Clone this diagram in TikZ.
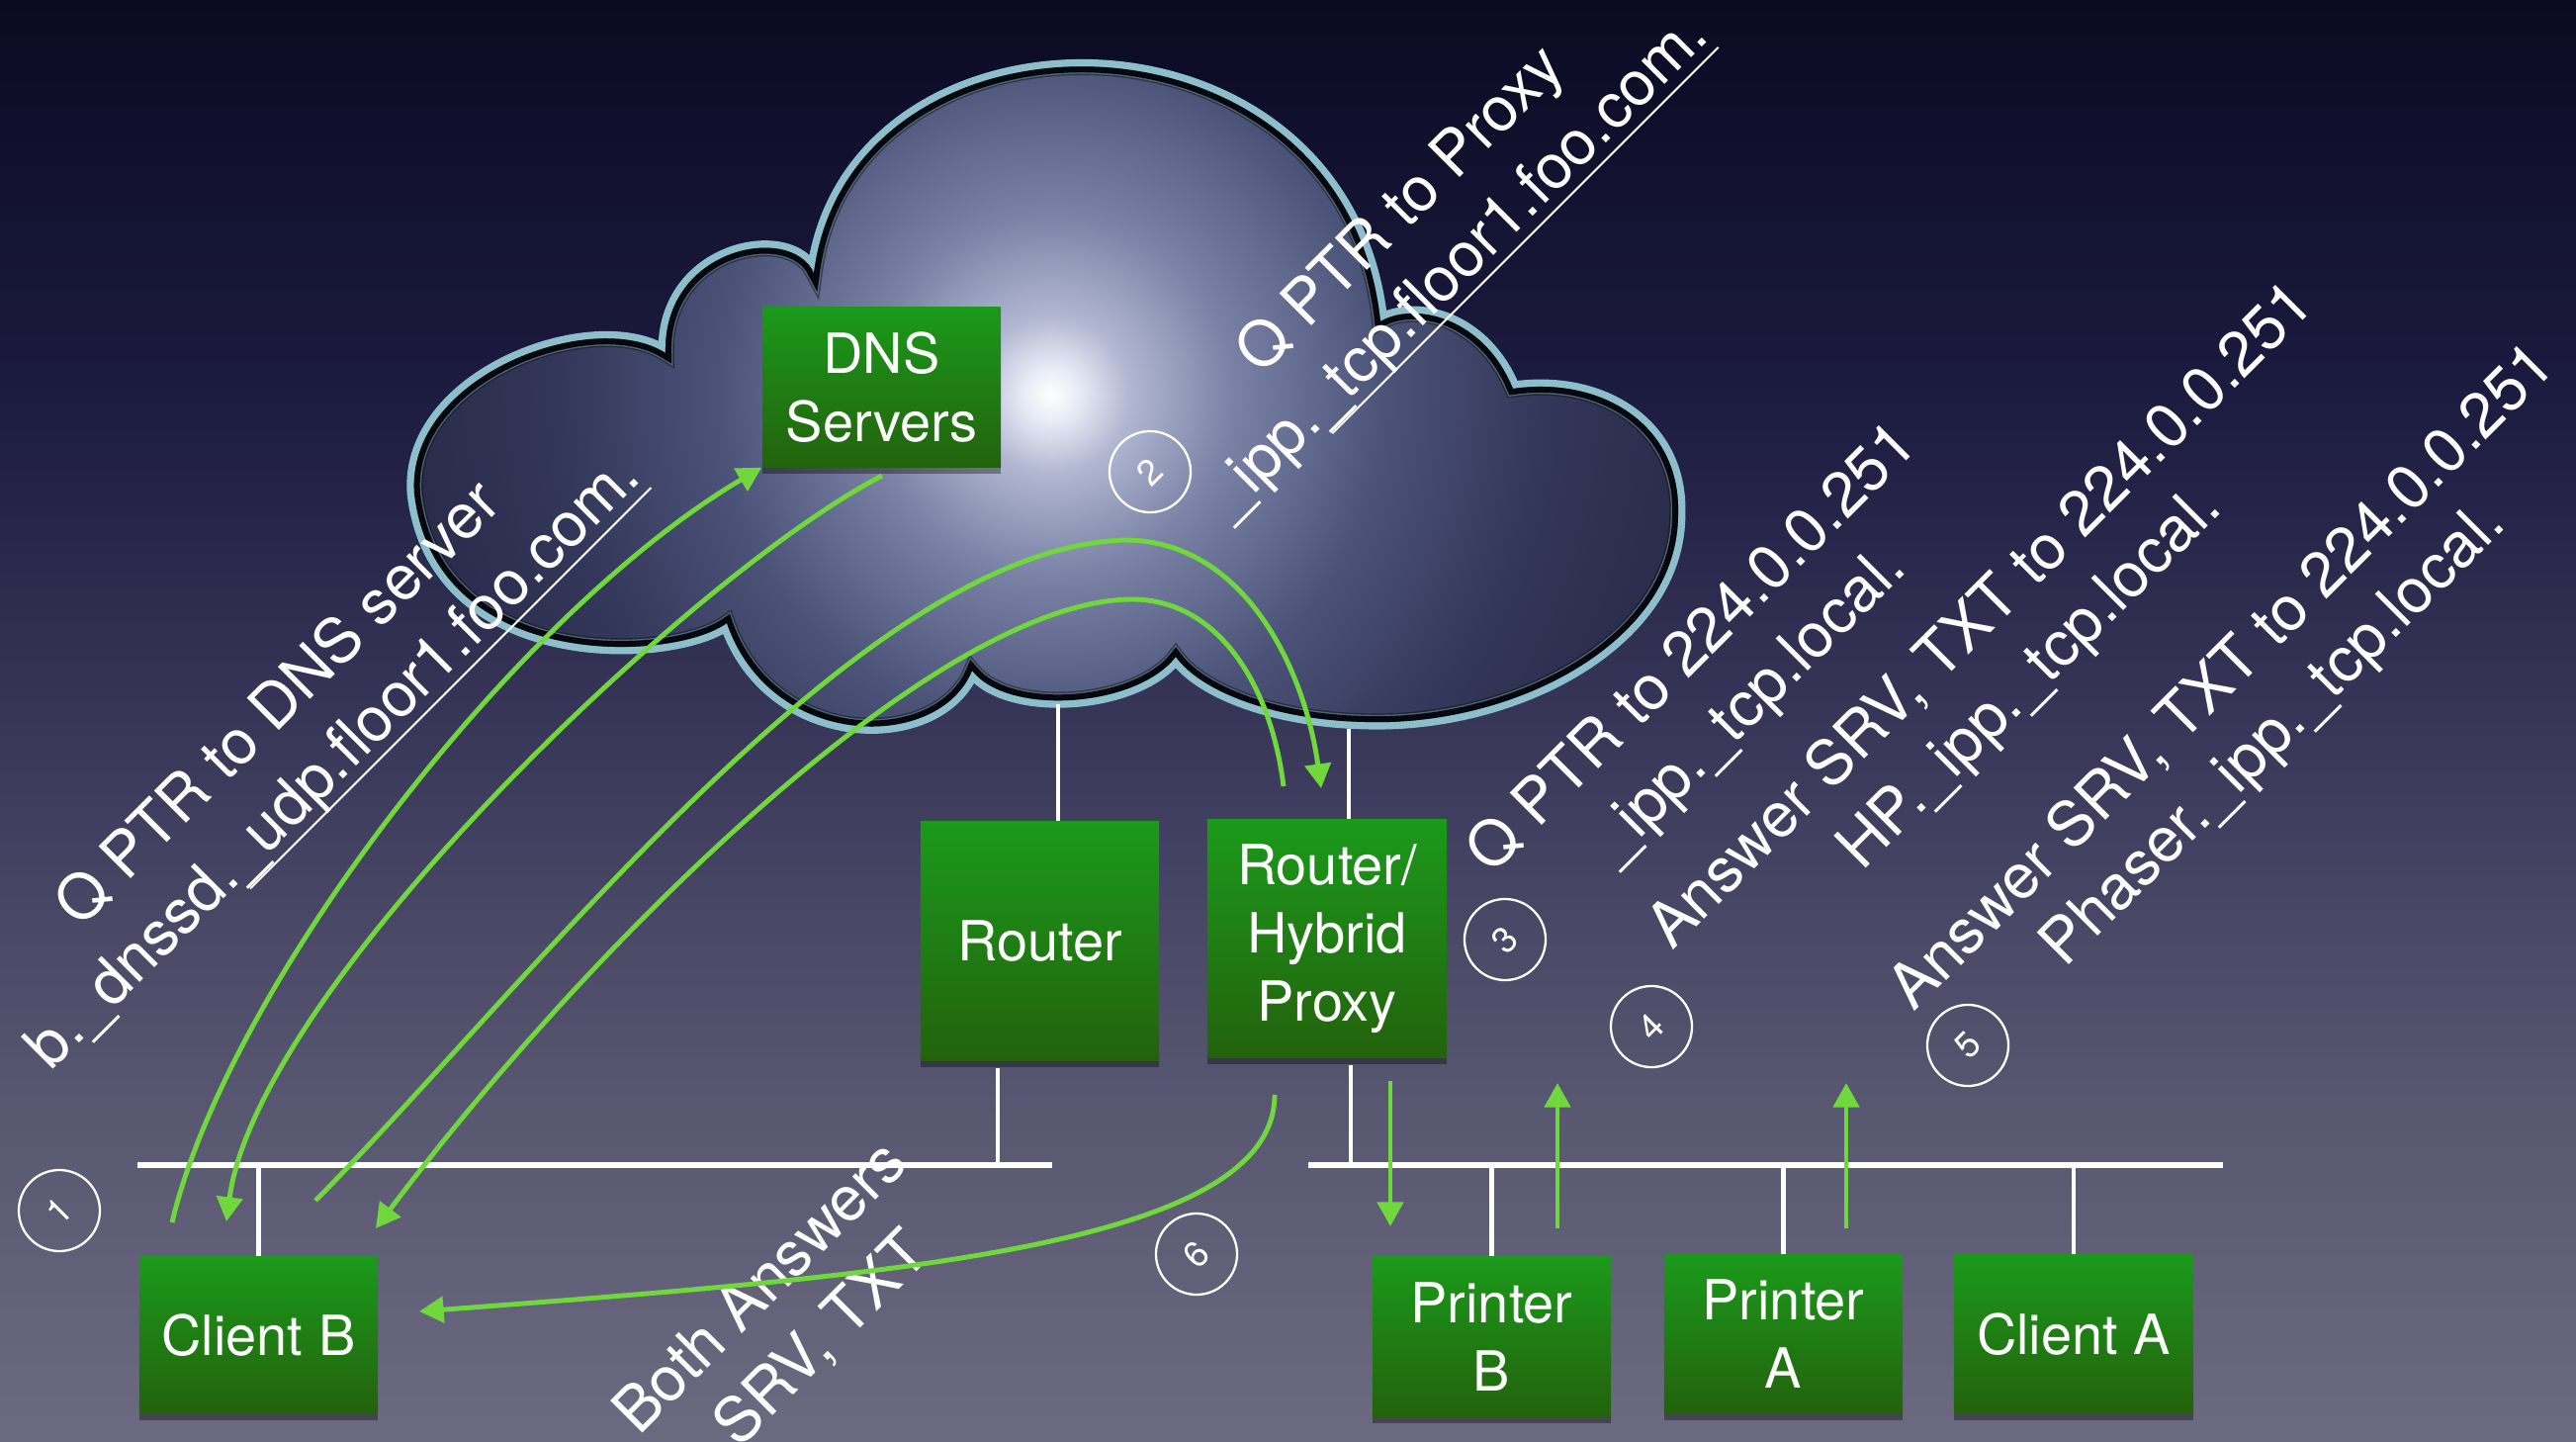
\documentclass[tikz,border=0pt]{standalone}
\usepackage{fontspec}
\setmainfont{TeX Gyre Heros}
\usetikzlibrary{arrows.meta,shadows,calc}

\definecolor{bgtop}{RGB}{10,10,34}
\definecolor{bgtt}{RGB}{28,27,64}
\definecolor{bgmid}{RGB}{62,60,93}
\definecolor{bgbb}{RGB}{87,86,112}
\definecolor{bgbot}{RGB}{108,106,128}
\definecolor{cg1}{RGB}{232,235,246}
\definecolor{cg2}{RGB}{178,184,210}
\definecolor{cg3}{RGB}{122,130,166}
\definecolor{cg4}{RGB}{76,83,120}
\definecolor{cg5}{RGB}{50,54,88}
\definecolor{cg6}{RGB}{38,40,70}
\definecolor{cloudrim}{RGB}{140,190,204}
\definecolor{boxtop}{RGB}{27,153,27}
\definecolor{boxbot}{RGB}{35,98,12}
\definecolor{arrowgreen}{RGB}{112,215,60}

\pgfdeclareverticalshading{bgshade}{100bp}{color(0bp)=(bgbot); color(25bp)=(bgbot); color(37.3bp)=(bgbb); color(47.6bp)=(bgmid); color(61.3bp)=(bgtt); color(75bp)=(bgtop); color(100bp)=(bgtop)}
\pgfdeclareradialshading{cloudglow}{\pgfpoint{0bp}{0bp}}{color(0bp)=(white); color(1bp)=(cg1); color(2.8bp)=(cg2); color(6.5bp)=(cg3); color(12bp)=(cg4); color(18bp)=(cg5); color(25bp)=(cg6); color(50bp)=(cg6)}

\newcommand{\cloudshape}{(673,357) .. controls (670,250) and (800,225) .. (823,276)
 .. controls (860,-10) and (1360,-10) .. (1396,325)
 .. controls (1430,305) and (1500,320) .. (1530,393)
 .. controls (1620,380) and (1700,430) .. (1697,520)
 .. controls (1697,650) and (1530,735) .. (1380,730)
 .. controls (1290,728) and (1215,700) .. (1189,664)
 .. controls (1150,715) and (1020,725) .. (983,678)
 .. controls (950,760) and (780,760) .. (735,630)
 .. controls (680,670) and (440,680) .. (419,499)
 .. controls (410,380) and (600,310) .. (673,357) -- cycle}

\newsavebox{\ulbox}
\newcommand{\ulink}[1]{\sbox{\ulbox}{#1}\rlap{\rule[-0.2em]{\wd\ulbox}{0.55pt}}\usebox{\ulbox}}

\tikzset{
  box/.style={rectangle, inner sep=0pt, top color=boxtop, bottom color=boxbot, text=white,
    align=center, font=\fontsize{15.9}{19.6}\selectfont,
    drop shadow={shadow xshift=0pt, shadow yshift=-2pt, opacity=0.35, fill=black}},
  lbl/.style={text=white, inner sep=0pt, rotate=45, anchor=base, font=\fontsize{17.9}{21}\selectfont},
  numc/.style={circle, draw=white, line width=0.65pt, minimum size=0.82cm, inner sep=0pt,
    text=white, rotate=45, font=\fontsize{10.3}{12}\selectfont},
  garrow/.style={draw=arrowgreen, line width=1.4pt, -{Triangle[length=7pt, width=7.4pt]}},
  gline/.style={draw=arrowgreen, line width=1.4pt},
  bus/.style={draw=white, line width=1.8pt},
  drop/.style={draw=white, line width=1.3pt},
}

\begin{document}
\begin{tikzpicture}[x=0.01cm, y=-0.01cm]
\useasboundingbox (0,0) rectangle (2605,1458);
\shade[shading=bgshade] (0,0) rectangle (2605,1458);

% cloud
\begin{scope}
  \clip \cloudshape;
  \shade[shading=cloudglow] (1063,399) circle (700);
\end{scope}
\draw[cloudrim, line width=4.2pt] \cloudshape;
\begin{scope}
  \clip \cloudshape;
  \draw[black, line width=3.4pt] \cloudshape;
  \draw[black!60!cg6, line width=5pt, opacity=0.5] \cloudshape;
\end{scope}

% boxes
\node[box, minimum width=2.41cm, minimum height=1.61cm] (dns) at (891.5,391.5) {DNS\\Servers};
\node[box, minimum width=2.41cm, minimum height=2.41cm] (router) at (1051.5,951.5) {Router};
\node[box, minimum width=2.42cm, minimum height=2.40cm] (proxy) at (1342,949) {Router/\\Hybrid\\Proxy};
\node[box, minimum width=2.41cm, minimum height=1.58cm] (clientB) at (261.5,1350) {Client B};
\node[box, minimum width=2.41cm, minimum height=1.61cm] (printerB) at (1508.5,1351.5) {Printer\\B};
\node[box, minimum width=2.41cm, minimum height=1.60cm] (printerA) at (1803.5,1349) {Printer\\A};
\node[box, minimum width=2.42cm, minimum height=1.60cm] (clientA) at (2097,1349) {Client A};

% network
\coordinate (bl1) at (139,1178);
\coordinate (bl2) at (1064,1178);
\coordinate (br1) at (1323,1178);
\coordinate (br2) at (2248,1178);
\draw[bus] (bl1) -- (bl2);
\draw[bus] (br1) -- (br2);
\draw[drop] (clientB.north) -- (clientB.north |- bl1);
\draw[drop] (printerB.north) -- (printerB.north |- br1);
\draw[drop] (printerA.north) -- (printerA.north |- br1);
\draw[drop] (clientA.north) -- (clientA.north |- br1);
\coordinate (rdown) at (1009,1080);
\coordinate (pdown) at (1366,1077);
\coordinate (rup) at (1070,712);
\coordinate (pup) at (1364,737);
\draw[drop] (rdown) -- (rdown |- bl1);
\draw[drop] (pdown) -- (pdown |- br1);
\draw[drop] (rup) -- (rup |- router.north);
\draw[drop] (pup) -- (pup |- proxy.north);

% labels
\node[lbl] (l1a) at (295,726) {Q PTR to DNS server};
\node[lbl] (l1b) at (351,784) {b.\_dnssd.\ulink{\_udp.floor1.foo.com.}};
\node[lbl] (l2a) at (1430,226) {Q PTR to Proxy};
\node[lbl] (l2b) at (1486,283) {\_ipp.\ulink{\_tcp.floor1.foo.com.}};
\node[lbl] (l3a) at (1725,669) {Q PTR to 224.0.0.251};
\node[lbl] (l3b) at (1781,726) {\_ipp.\_tcp.local.};
\node[lbl] (l4a) at (2017,636) {Answer SRV, TXT to 224.0.0.251};
\node[lbl] (l4b) at (2066,699) {HP.\_ipp.\_tcp.local.};
\node[lbl] (l5a) at (2261,698) {Answer SRV, TXT to 224.0.0.251};
\node[lbl] (l5b) at (2312,756) {Phaser.\_ipp.\_tcp.local.};
\node[lbl] (l6a) at (783,1316) {Both Answers};
\node[lbl] (l6b) at (845,1368) {SRV, TXT};

% step numbers
\node[numc] (n1) at (60,1224) {1};
\node[numc] (n2) at (1163,477) {2};
\node[numc] (n3) at (1522,950) {3};
\node[numc] (n4) at (1670,1038) {4};
\node[numc] (n5) at (1990,1057) {5};
\node[numc] (n6) at (1210,1268) {6};

% arrows
\coordinate (a1s) at (174,1236);
\coordinate (a2s) at (892,481);
\coordinate (a2e) at (229,1235);
\coordinate (a3s) at (319,1214);
\coordinate (a3p) at (1137,546);
\coordinate (a3e) at (1336,797);
\coordinate (a4s) at (1298,795);
\coordinate (a4p) at (1145,606);
\coordinate (a4e) at (380,1242);
\coordinate (a5s) at (1289,1107);
\coordinate (a5e) at (424,1326);
\coordinate (a6s) at (1406,1093);
\coordinate (a6e) at (1406,1240);
\coordinate (a7s) at (1575,1242);
\coordinate (a7e) at (1575,1095);
\coordinate (a8s) at (1867,1242);
\coordinate (a8e) at (1867,1095);

\draw[garrow] (a1s) .. controls (230,1000) and (520,620) .. (dns.south west);
\draw[garrow] (a2s) .. controls (700,580) and (260,1000) .. (a2e);
\draw[gline] (a3s) .. controls (540,990) and (870,555) .. (a3p);
\draw[garrow] (a3p) .. controls (1260,546) and (1320,680) .. (a3e);
\draw[gline] (a4s) .. controls (1285,690) and (1230,606) .. (a4p);
\draw[garrow] (a4p) .. controls (950,606) and (600,950) .. (a4e);
\draw[garrow] (a5s) .. controls (1289,1260) and (900,1290) .. (a5e);
\draw[garrow] (a6s) -- (a6e);
\draw[garrow] (a7s) -- (a7e);
\draw[garrow] (a8s) -- (a8e);
\end{tikzpicture}
\end{document}
